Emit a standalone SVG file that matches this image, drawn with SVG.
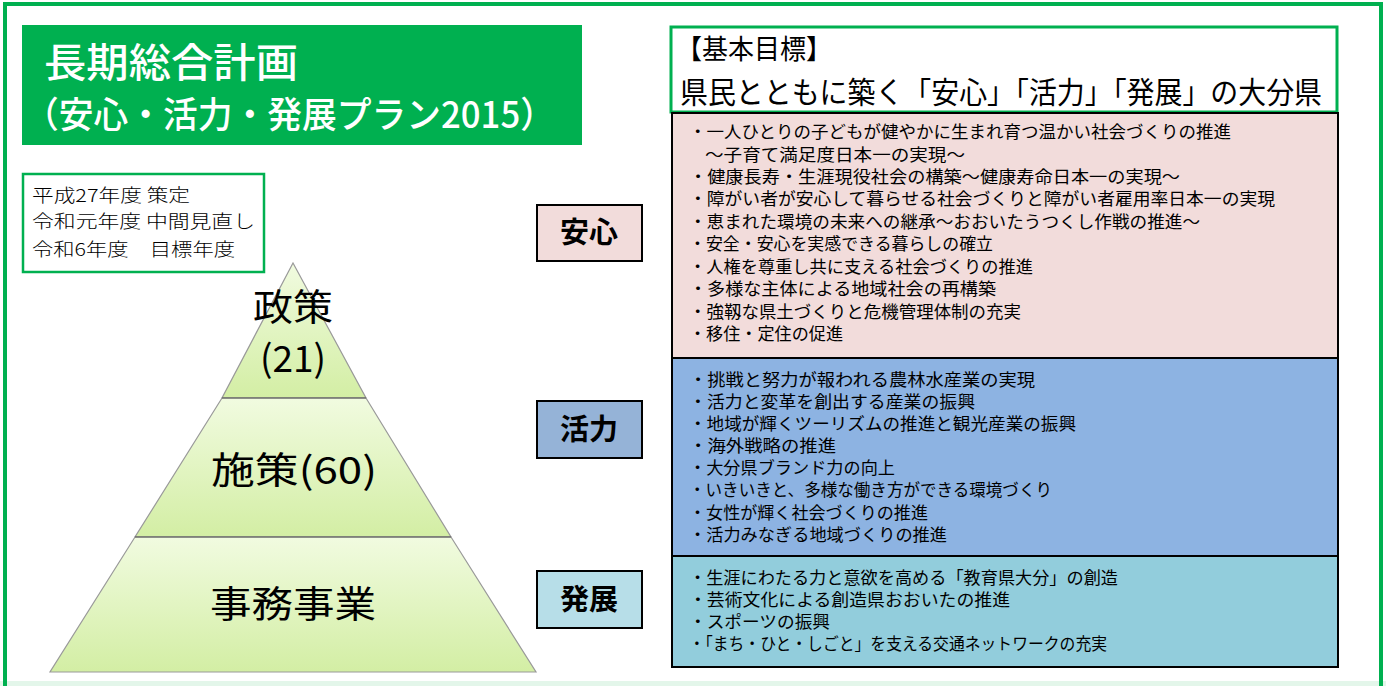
<svg xmlns="http://www.w3.org/2000/svg" width="1386" height="686" viewBox="0 0 1386 686">
<defs>
<linearGradient id="pg" x1="0" y1="0" x2="0" y2="1">
<stop offset="0" stop-color="#f1fbe0"/>
<stop offset="1" stop-color="#d3eea4"/>
</linearGradient>
<style>
.jp{font-family:"Noto Sans CJK JP","Noto Sans",sans-serif;}
.item{font-family:"Noto Sans CJK JP","Noto Sans",sans-serif;font-size:16.5px;fill:#000;}
.lbl{font-family:"Noto Sans CJK JP",sans-serif;font-size:29px;font-weight:bold;text-anchor:middle;fill:#000;}
.lblbox{stroke:#000;stroke-width:2;}
.pyr{font-family:"Noto Sans CJK JP","Noto Sans",sans-serif;font-size:37px;text-anchor:middle;fill:#000;}
</style>
</defs>
<rect x="0" y="0" width="1386" height="686" fill="#fff"/>
<rect x="0" y="681" width="1386" height="5" fill="#e3f6ea"/>
<rect x="5" y="4" width="1376" height="690" fill="none" stroke="#00b050" stroke-width="4"/>

<g id="title">
<rect x="22" y="25" width="560" height="120" fill="#00b050"/>
<text class="jp" x="44" y="77" font-size="40" font-weight="500" fill="#fff" textLength="254" lengthAdjust="spacingAndGlyphs">長期総合計画</text>
<text class="jp" x="24" y="128" font-size="36" font-weight="500" fill="#fff" textLength="531" lengthAdjust="spacingAndGlyphs">（安心・活力・発展プラン2015）</text>
</g>

<g id="info">
<rect x="23" y="174" width="241" height="98" fill="#fff" stroke="#00b050" stroke-width="2.5"/>
<text class="jp" font-size="18" font-weight="300" fill="#000" x="32" y="202" textLength="158" lengthAdjust="spacingAndGlyphs">平成27年度 策定</text>
<text class="jp" font-size="18" font-weight="300" fill="#000" x="32" y="228" textLength="223" lengthAdjust="spacingAndGlyphs">令和元年度  中間見直し</text>
<text class="jp" font-size="18" font-weight="300" fill="#000" x="32" y="256" textLength="203" lengthAdjust="spacingAndGlyphs">令和6年度　目標年度</text>
</g>

<g id="pyramid">
<polygon points="293,263 366,398 222,398" fill="url(#pg)" stroke="#999" stroke-width="1.2"/>
<polygon points="222,398 366,398 451,537 135,537" fill="url(#pg)" stroke="#999" stroke-width="1.2"/>
<polygon points="135,537 451,537 536,672 50,672" fill="url(#pg)" stroke="#999" stroke-width="1.2"/>
<line x1="222" y1="398" x2="366" y2="398" stroke="#555" stroke-width="1.2"/>
<line x1="135" y1="537" x2="451" y2="537" stroke="#555" stroke-width="1.2"/>
<text class="pyr" x="293" y="321" font-size="36" textLength="80" lengthAdjust="spacingAndGlyphs">政策</text>
<text class="pyr" x="293" y="372" font-size="36">(21)</text>
<text class="pyr" x="294" y="484" textLength="166" lengthAdjust="spacingAndGlyphs">施策(60)</text>
<text class="pyr" x="293" y="618" font-size="40" textLength="166" lengthAdjust="spacingAndGlyphs">事務事業</text>
</g>

<g id="label-anshin">
<rect class="lblbox" x="537" y="205" width="105" height="56" fill="#f2dcdb"/>
<text class="lbl" x="589" y="243">安心</text>
</g>
<g id="label-katsuryoku">
<rect class="lblbox" x="537" y="401" width="105" height="57" fill="#95b3d7"/>
<text class="lbl" x="589" y="440">活力</text>
</g>
<g id="label-hatten">
<rect class="lblbox" x="537" y="571" width="105" height="57" fill="#b7dee8"/>
<text class="lbl" x="589" y="610">発展</text>
</g>

<g id="goal">
<rect x="671" y="27" width="666" height="85" fill="#fff" stroke="#00b050" stroke-width="3"/>
<text class="jp" x="676" y="59" font-size="27" fill="#000" textLength="156" lengthAdjust="spacingAndGlyphs">【基本目標】</text>
<text class="jp" x="680" y="103" font-size="30" fill="#000" textLength="642" lengthAdjust="spacingAndGlyphs">県民とともに築く「安心」「活力」「発展」の大分県</text>
</g>

<g id="anshin-list">
<rect x="672" y="113" width="666" height="245" fill="#f2dcdb" stroke="#000" stroke-width="2"/>
<text class="item" x="689" y="138" textLength="542" lengthAdjust="spacingAndGlyphs">・一人ひとりの子どもが健やかに生まれ育つ温かい社会づくりの推進</text>
<text class="item" x="705" y="161" textLength="260" lengthAdjust="spacingAndGlyphs">～子育て満足度日本一の実現～</text>
<text class="item" x="689" y="183" textLength="491" lengthAdjust="spacingAndGlyphs">・健康長寿・生涯現役社会の構築～健康寿命日本一の実現～</text>
<text class="item" x="689" y="205" textLength="586" lengthAdjust="spacingAndGlyphs">・障がい者が安心して暮らせる社会づくりと障がい者雇用率日本一の実現</text>
<text class="item" x="689" y="228" textLength="511" lengthAdjust="spacingAndGlyphs">・恵まれた環境の未来への継承～おおいたうつくし作戦の推進～</text>
<text class="item" x="689" y="250" textLength="304" lengthAdjust="spacingAndGlyphs">・安全・安心を実感できる暮らしの確立</text>
<text class="item" x="689" y="273" textLength="344" lengthAdjust="spacingAndGlyphs">・人権を尊重し共に支える社会づくりの推進</text>
<text class="item" x="689" y="295" textLength="307" lengthAdjust="spacingAndGlyphs">・多様な主体による地域社会の再構築</text>
<text class="item" x="689" y="318" textLength="332" lengthAdjust="spacingAndGlyphs">・強靱な県土づくりと危機管理体制の充実</text>
<text class="item" x="689" y="340" textLength="154" lengthAdjust="spacingAndGlyphs">・移住・定住の促進</text>
</g>

<g id="katsuryoku-list">
<rect x="672" y="358" width="666" height="198" fill="#8db3e2" stroke="#000" stroke-width="2"/>
<text class="item" x="689" y="386" textLength="346" lengthAdjust="spacingAndGlyphs">・挑戦と努力が報われる農林水産業の実現</text>
<text class="item" x="689" y="408" textLength="286" lengthAdjust="spacingAndGlyphs">・活力と変革を創出する産業の振興</text>
<text class="item" x="689" y="430" textLength="387" lengthAdjust="spacingAndGlyphs">・地域が輝くツーリズムの推進と観光産業の振興</text>
<text class="item" x="689" y="452" textLength="147" lengthAdjust="spacingAndGlyphs">・海外戦略の推進</text>
<text class="item" x="689" y="474" textLength="206" lengthAdjust="spacingAndGlyphs">・大分県ブランド力の向上</text>
<text class="item" x="689" y="496" textLength="363" lengthAdjust="spacingAndGlyphs">・いきいきと、多様な働き方ができる環境づくり</text>
<text class="item" x="689" y="519" textLength="239" lengthAdjust="spacingAndGlyphs">・女性が輝く社会づくりの推進</text>
<text class="item" x="689" y="541" textLength="258" lengthAdjust="spacingAndGlyphs">・活力みなぎる地域づくりの推進</text>
</g>

<g id="hatten-list">
<rect x="672" y="556" width="666" height="111" fill="#92cddc" stroke="#000" stroke-width="2"/>
<text class="item" x="689" y="584" textLength="429" lengthAdjust="spacingAndGlyphs">・生涯にわたる力と意欲を高める「教育県大分」の創造</text>
<text class="item" x="689" y="606" textLength="321" lengthAdjust="spacingAndGlyphs">・芸術文化による創造県おおいたの推進</text>
<text class="item" x="689" y="628" textLength="141" lengthAdjust="spacingAndGlyphs">・スポーツの振興</text>
<text class="item" x="689" y="650" textLength="418" lengthAdjust="spacingAndGlyphs">・「まち・ひと・しごと」を支える交通ネットワークの充実</text>
</g>

<g id="connectors"></g>
</svg>
